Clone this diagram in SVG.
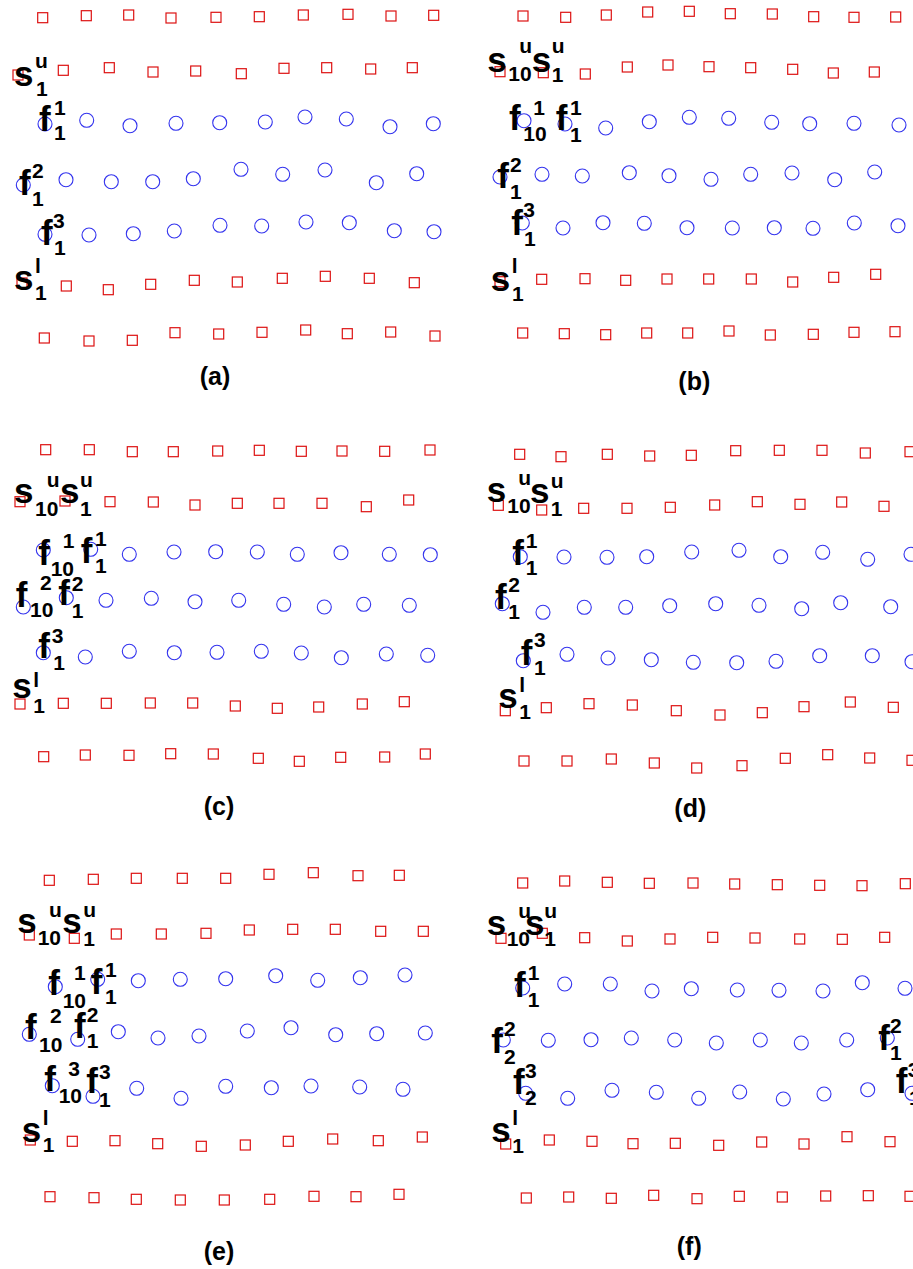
<svg xmlns="http://www.w3.org/2000/svg" xmlns:xlink="http://www.w3.org/1999/xlink" width="913" height="1269" viewBox="0 0 913 1269">
<style>
.sq{fill:none;stroke:#dd1111;stroke-width:1.2}
.ci{fill:none;stroke:#3333ee;stroke-width:1.1}
text{font-family:"Liberation Sans",Arial,Helvetica,sans-serif;font-weight:bold;fill:#000}
.m{font-size:35px}
.s{font-size:21px}
.cap{font-size:25px;text-anchor:middle}
</style>
<defs>
<rect id="sq" class="sq" x="-5" y="-5" width="10" height="10"/>
<circle id="ci" class="ci" r="7"/>
</defs>
<rect width="913" height="1269" fill="#fff"/>

<g id="panel-a">
<g id="a-markers">
<use href="#sq" x="42.7" y="17.7"/><use href="#sq" x="86.3" y="15.7"/><use href="#sq" x="128.7" y="15"/><use href="#sq" x="171" y="18"/><use href="#sq" x="216" y="17.3"/><use href="#sq" x="259.3" y="16.7"/><use href="#sq" x="303.3" y="15"/><use href="#sq" x="348" y="14.3"/><use href="#sq" x="391" y="16"/><use href="#sq" x="433.7" y="15.3"/>
<use href="#sq" x="18" y="75"/><use href="#sq" x="63.3" y="70.3"/><use href="#sq" x="109.3" y="67.7"/><use href="#sq" x="153" y="72"/><use href="#sq" x="195.7" y="71"/><use href="#sq" x="241.3" y="73.7"/><use href="#sq" x="284" y="68.3"/><use href="#sq" x="326.7" y="67.7"/><use href="#sq" x="370.7" y="69"/><use href="#sq" x="412.3" y="67.7"/>
<use href="#ci" x="45" y="124"/><use href="#ci" x="86.7" y="120.3"/><use href="#ci" x="130" y="125.7"/><use href="#ci" x="176" y="123.3"/><use href="#ci" x="219.7" y="122.7"/><use href="#ci" x="265.3" y="122"/><use href="#ci" x="305" y="117"/><use href="#ci" x="346.3" y="119"/><use href="#ci" x="390" y="126.7"/><use href="#ci" x="433.3" y="123.7"/>
<use href="#ci" x="23.3" y="185"/><use href="#ci" x="66" y="179.7"/><use href="#ci" x="111.3" y="181.7"/><use href="#ci" x="152.7" y="181.7"/><use href="#ci" x="193.3" y="178.7"/><use href="#ci" x="241" y="169.3"/><use href="#ci" x="282.7" y="174.3"/><use href="#ci" x="325" y="170"/><use href="#ci" x="376.3" y="182.7"/><use href="#ci" x="416.7" y="173.7"/>
<use href="#ci" x="45" y="234.3"/><use href="#ci" x="89" y="235"/><use href="#ci" x="133.3" y="233.7"/><use href="#ci" x="174.3" y="231"/><use href="#ci" x="220" y="225.3"/><use href="#ci" x="261.7" y="226"/><use href="#ci" x="306" y="222"/><use href="#ci" x="349.3" y="222.7"/><use href="#ci" x="394.3" y="230.7"/><use href="#ci" x="434" y="231.7"/>
<use href="#sq" x="22" y="283"/><use href="#sq" x="66.3" y="286"/><use href="#sq" x="108.3" y="289.7"/><use href="#sq" x="150.7" y="284.3"/><use href="#sq" x="194.3" y="280.3"/><use href="#sq" x="237.3" y="282"/><use href="#sq" x="282.3" y="278.3"/><use href="#sq" x="325.3" y="276.3"/><use href="#sq" x="369.3" y="278.3"/><use href="#sq" x="414.3" y="282.7"/>
<use href="#sq" x="44.3" y="338"/><use href="#sq" x="89" y="341"/><use href="#sq" x="132.3" y="340.3"/><use href="#sq" x="175" y="332.7"/><use href="#sq" x="218.7" y="334"/><use href="#sq" x="262" y="332.3"/><use href="#sq" x="305.7" y="330"/><use href="#sq" x="347.3" y="333.7"/><use href="#sq" x="390.7" y="332"/><use href="#sq" x="435" y="336"/>
</g>
<g id="a-labels">
<text class="m" x="14" y="86">s</text><text class="s" x="35" y="68">u</text><text class="s" x="36" y="96">1</text>
<text class="m" x="39" y="130.7">f</text><text class="s" x="54" y="115">1</text><text class="s" x="54" y="140">1</text>
<text class="m" x="19" y="195">f</text><text class="s" x="32" y="178">2</text><text class="s" x="32" y="206">1</text>
<text class="m" x="41" y="245">f</text><text class="s" x="53" y="228">3</text><text class="s" x="54" y="255">1</text>
<text class="m" x="14" y="290">s</text><text class="s" x="35" y="273">l</text><text class="s" x="35" y="300">1</text>
<text class="cap" x="215" y="385">(a)</text>
</g>
</g>

<g id="panel-b">
<g id="b-markers">
<use href="#sq" x="523" y="16"/><use href="#sq" x="565.7" y="17.3"/><use href="#sq" x="606.3" y="15"/><use href="#sq" x="647.7" y="12"/><use href="#sq" x="689.3" y="11.3"/><use href="#sq" x="730.3" y="13.7"/><use href="#sq" x="772.3" y="14"/><use href="#sq" x="813.7" y="16.7"/><use href="#sq" x="854" y="17.3"/><use href="#sq" x="895.7" y="17"/>
<use href="#sq" x="500" y="71.7"/><use href="#sq" x="543.3" y="72.7"/><use href="#sq" x="585.3" y="74"/><use href="#sq" x="627.3" y="67"/><use href="#sq" x="668" y="65"/><use href="#sq" x="709" y="66.7"/><use href="#sq" x="750.7" y="67.7"/><use href="#sq" x="792.7" y="69.3"/><use href="#sq" x="833.3" y="73"/><use href="#sq" x="874.3" y="72"/>
<use href="#ci" x="524" y="120.7"/><use href="#ci" x="565" y="124"/><use href="#ci" x="605.7" y="128"/><use href="#ci" x="649.3" y="121.7"/><use href="#ci" x="689.3" y="117.3"/><use href="#ci" x="728.7" y="118.3"/><use href="#ci" x="771.7" y="122.3"/><use href="#ci" x="809.7" y="123.7"/><use href="#ci" x="854" y="123.3"/><use href="#ci" x="899" y="125"/>
<use href="#ci" x="500" y="177"/><use href="#ci" x="542" y="174.3"/><use href="#ci" x="582.3" y="176"/><use href="#ci" x="629.3" y="172.7"/><use href="#ci" x="669" y="175.7"/><use href="#ci" x="711" y="179.3"/><use href="#ci" x="750.7" y="174.3"/><use href="#ci" x="792" y="173"/><use href="#ci" x="834.7" y="179.7"/><use href="#ci" x="874.7" y="172"/>
<use href="#ci" x="522.3" y="223"/><use href="#ci" x="563" y="228"/><use href="#ci" x="603" y="222.7"/><use href="#ci" x="644.3" y="223.3"/><use href="#ci" x="687" y="227.7"/><use href="#ci" x="732.3" y="228"/><use href="#ci" x="774.3" y="227.7"/><use href="#ci" x="813" y="228.3"/><use href="#ci" x="854.3" y="223"/><use href="#ci" x="898" y="225.7"/>
<use href="#sq" x="500" y="281.7"/><use href="#sq" x="541.7" y="279.3"/><use href="#sq" x="585" y="278.7"/><use href="#sq" x="625.7" y="280.3"/><use href="#sq" x="667" y="279"/><use href="#sq" x="708.7" y="279"/><use href="#sq" x="751.3" y="279"/><use href="#sq" x="792.7" y="282"/><use href="#sq" x="833.7" y="277.3"/><use href="#sq" x="875.7" y="274.3"/>
<use href="#sq" x="522.7" y="333"/><use href="#sq" x="564.3" y="333.7"/><use href="#sq" x="605.7" y="334.7"/><use href="#sq" x="646.7" y="333"/><use href="#sq" x="687.7" y="333"/><use href="#sq" x="729" y="331"/><use href="#sq" x="770.3" y="335"/><use href="#sq" x="813.3" y="334.3"/><use href="#sq" x="854" y="332.3"/><use href="#sq" x="895" y="331.7"/>
</g>
<g id="b-labels">
<text class="m" x="487.3" y="71.7">s</text><text class="s" x="519.3" y="53.3">u</text><text class="s" x="508.3" y="81">10</text>
<text class="m" x="531.7" y="71.7">s</text><text class="s" x="551.7" y="53.3">u</text><text class="s" x="551.7" y="81.7">1</text>
<text class="m" x="509" y="130">f</text><text class="s" x="533.3" y="115">1</text><text class="s" x="523.3" y="141">10</text>
<text class="m" x="555.7" y="130">f</text><text class="s" x="570" y="115">1</text><text class="s" x="570" y="141.7">1</text>
<text class="m" x="497.3" y="188.3">f</text><text class="s" x="510" y="171.7">2</text><text class="s" x="510" y="199.3">1</text>
<text class="m" x="511.3" y="235">f</text><text class="s" x="523.3" y="217.3">3</text><text class="s" x="524" y="246">1</text>
<text class="m" x="490.7" y="290.7">s</text><text class="s" x="511.7" y="273.3">l</text><text class="s" x="512" y="300.7">1</text>
<text class="cap" x="694.3" y="390">(b)</text>
</g>
</g>

<g id="panel-c">
<g id="c-markers">
<use href="#sq" x="45.7" y="449.7"/><use href="#sq" x="89.3" y="449.7"/><use href="#sq" x="132.3" y="451.7"/><use href="#sq" x="173.3" y="451.7"/><use href="#sq" x="217.7" y="451"/><use href="#sq" x="259.3" y="450.3"/><use href="#sq" x="301.3" y="451.3"/><use href="#sq" x="342" y="451"/><use href="#sq" x="384.7" y="451.3"/><use href="#sq" x="430" y="450"/>
<use href="#sq" x="20" y="501.7"/><use href="#sq" x="65" y="501"/><use href="#sq" x="110" y="501.7"/><use href="#sq" x="153.3" y="502"/><use href="#sq" x="195" y="505"/><use href="#sq" x="237.3" y="503.3"/><use href="#sq" x="279" y="503.3"/><use href="#sq" x="322" y="503.3"/><use href="#sq" x="366.3" y="506.7"/><use href="#sq" x="408.7" y="500"/>
<use href="#ci" x="43.3" y="550"/><use href="#ci" x="90.7" y="549.3"/><use href="#ci" x="129.3" y="554.3"/><use href="#ci" x="174" y="552"/><use href="#ci" x="215.7" y="551.7"/><use href="#ci" x="257.3" y="552"/><use href="#ci" x="297.3" y="554.3"/><use href="#ci" x="341" y="552.7"/><use href="#ci" x="389.3" y="554.3"/><use href="#ci" x="430.3" y="554.7"/>
<use href="#ci" x="23.3" y="607"/><use href="#ci" x="66.3" y="597.7"/><use href="#ci" x="106" y="600.3"/><use href="#ci" x="151.3" y="598.3"/><use href="#ci" x="195" y="601.7"/><use href="#ci" x="238.7" y="600.3"/><use href="#ci" x="283.7" y="604.3"/><use href="#ci" x="324.3" y="607"/><use href="#ci" x="363.7" y="604.3"/><use href="#ci" x="409.3" y="605.3"/>
<use href="#ci" x="43.3" y="652.7"/><use href="#ci" x="85.3" y="657"/><use href="#ci" x="129.3" y="651.3"/><use href="#ci" x="174.3" y="652.7"/><use href="#ci" x="217" y="652.3"/><use href="#ci" x="261.3" y="651.3"/><use href="#ci" x="301.3" y="653"/><use href="#ci" x="341.3" y="657.7"/><use href="#ci" x="386.3" y="654"/><use href="#ci" x="427.7" y="655.3"/>
<use href="#sq" x="20" y="704"/><use href="#sq" x="63.3" y="703.3"/><use href="#sq" x="106.3" y="703.3"/><use href="#sq" x="150.3" y="703"/><use href="#sq" x="192.7" y="703"/><use href="#sq" x="235.3" y="706"/><use href="#sq" x="277.3" y="708.3"/><use href="#sq" x="318.7" y="707"/><use href="#sq" x="362.3" y="704"/><use href="#sq" x="404.3" y="701.7"/>
<use href="#sq" x="43.7" y="756.7"/><use href="#sq" x="85.3" y="755"/><use href="#sq" x="129" y="755.3"/><use href="#sq" x="170.7" y="753.7"/><use href="#sq" x="213.3" y="754"/><use href="#sq" x="258.3" y="758.3"/><use href="#sq" x="299.3" y="761.3"/><use href="#sq" x="340.7" y="757.3"/><use href="#sq" x="384.7" y="757"/><use href="#sq" x="425.3" y="754"/>
</g>
<g id="c-labels">
<text class="m" x="14" y="503.3">s</text><text class="s" x="46.7" y="486.7">u</text><text class="s" x="35" y="516">10</text>
<text class="m" x="60" y="503.3">s</text><text class="s" x="80" y="486.7">u</text><text class="s" x="80" y="516">1</text>
<text class="m" x="38.3" y="565">f</text><text class="s" x="62.7" y="548.3">1</text><text class="s" x="50.7" y="576">10</text>
<text class="m" x="80.7" y="563.3">f</text><text class="s" x="95" y="546">1</text><text class="s" x="95" y="573.3">1</text>
<text class="m" x="15.7" y="606.7">f</text><text class="s" x="40" y="590">2</text><text class="s" x="30" y="617.3">10</text>
<text class="m" x="58.3" y="605">f</text><text class="s" x="71.7" y="590.7">2</text><text class="s" x="71.7" y="618.3">1</text>
<text class="m" x="38.3" y="658.3">f</text><text class="s" x="51.7" y="642.7">3</text><text class="s" x="53.3" y="670">1</text>
<text class="m" x="12.3" y="698.3">s</text><text class="s" x="33.3" y="686.7">l</text><text class="s" x="33.3" y="713.3">1</text>
<text class="cap" x="219" y="815">(c)</text>
</g>
</g>

<g id="panel-d">
<g id="d-markers">
<use href="#sq" x="519.7" y="454.3"/><use href="#sq" x="561" y="456.7"/><use href="#sq" x="607.3" y="454.3"/><use href="#sq" x="649.7" y="456"/><use href="#sq" x="691.3" y="455.3"/><use href="#sq" x="735.7" y="450.7"/><use href="#sq" x="779.3" y="450.3"/><use href="#sq" x="822" y="450.3"/><use href="#sq" x="865.3" y="453"/><use href="#sq" x="910" y="451.7"/>
<use href="#sq" x="498.3" y="505.3"/><use href="#sq" x="541.7" y="510"/><use href="#sq" x="583.7" y="508.3"/><use href="#sq" x="627" y="508.3"/><use href="#sq" x="670.3" y="507.3"/><use href="#sq" x="714.7" y="505"/><use href="#sq" x="757.3" y="501.7"/><use href="#sq" x="800" y="504.3"/><use href="#sq" x="841.7" y="502"/><use href="#sq" x="884" y="506.3"/>
<use href="#ci" x="520.3" y="556.7"/><use href="#ci" x="564" y="557"/><use href="#ci" x="607" y="557.3"/><use href="#ci" x="646.7" y="556.7"/><use href="#ci" x="691.7" y="552"/><use href="#ci" x="739" y="550.3"/><use href="#ci" x="780.7" y="556.7"/><use href="#ci" x="822.7" y="552.3"/><use href="#ci" x="867.7" y="559.3"/><use href="#ci" x="911" y="554.3"/>
<use href="#ci" x="502.3" y="603.7"/><use href="#ci" x="543" y="612.3"/><use href="#ci" x="584.3" y="607.3"/><use href="#ci" x="625.7" y="607.3"/><use href="#ci" x="669.7" y="605.7"/><use href="#ci" x="715.7" y="603.7"/><use href="#ci" x="759" y="605.3"/><use href="#ci" x="801.7" y="608.7"/><use href="#ci" x="840.7" y="602.7"/><use href="#ci" x="890.7" y="606.7"/>
<use href="#ci" x="523.3" y="660.7"/><use href="#ci" x="567" y="654.3"/><use href="#ci" x="608" y="658"/><use href="#ci" x="651.3" y="659.7"/><use href="#ci" x="693.3" y="662.3"/><use href="#ci" x="736.7" y="662.7"/><use href="#ci" x="776" y="661.3"/><use href="#ci" x="819.7" y="655.7"/><use href="#ci" x="872.3" y="655.7"/><use href="#ci" x="912" y="661.7"/>
<use href="#sq" x="505.3" y="710.7"/><use href="#sq" x="546.3" y="707.7"/><use href="#sq" x="589" y="703.7"/><use href="#sq" x="632.3" y="705"/><use href="#sq" x="676.3" y="710.7"/><use href="#sq" x="720" y="715"/><use href="#sq" x="762.3" y="712.7"/><use href="#sq" x="804" y="706.7"/><use href="#sq" x="850.3" y="702"/><use href="#sq" x="893.3" y="707.3"/>
<use href="#sq" x="524" y="761"/><use href="#sq" x="567" y="761"/><use href="#sq" x="611.3" y="759"/><use href="#sq" x="654.3" y="763"/><use href="#sq" x="696.7" y="768"/><use href="#sq" x="742" y="765.7"/><use href="#sq" x="785.3" y="758.3"/><use href="#sq" x="827.7" y="754.7"/><use href="#sq" x="869.7" y="758"/><use href="#sq" x="912" y="760.3"/>
</g>
<g id="d-labels">
<text class="m" x="486.7" y="501.7">s</text><text class="s" x="518.3" y="485">u</text><text class="s" x="507.3" y="513.3">10</text>
<text class="m" x="530" y="503.3">s</text><text class="s" x="550.7" y="487.7">u</text><text class="s" x="550.7" y="515.7">1</text>
<text class="m" x="512.3" y="565">f</text><text class="s" x="525.7" y="548.3">1</text><text class="s" x="525.7" y="575">1</text>
<text class="m" x="495" y="609.3">f</text><text class="s" x="508.3" y="591.7">2</text><text class="s" x="508.3" y="619.3">1</text>
<text class="m" x="520.7" y="665">f</text><text class="s" x="534" y="646.7">3</text><text class="s" x="534" y="675">1</text>
<text class="m" x="498.3" y="708.3">s</text><text class="s" x="519.3" y="691.7">l</text><text class="s" x="519.3" y="719.3">1</text>
<text class="cap" x="690.3" y="816.5">(d)</text>
</g>
</g>

<g id="panel-e">
<g id="e-markers">
<use href="#sq" x="49.3" y="880.3"/><use href="#sq" x="93.3" y="879.3"/><use href="#sq" x="136.3" y="878.3"/><use href="#sq" x="182.3" y="878.3"/><use href="#sq" x="225.7" y="878.3"/><use href="#sq" x="269" y="874.3"/><use href="#sq" x="313.3" y="872.7"/><use href="#sq" x="358" y="875.7"/><use href="#sq" x="399.3" y="875.3"/>
<use href="#sq" x="29.3" y="935"/><use href="#sq" x="74.3" y="938.3"/><use href="#sq" x="116.3" y="934"/><use href="#sq" x="161.3" y="934"/><use href="#sq" x="206" y="933.3"/><use href="#sq" x="249.3" y="930"/><use href="#sq" x="292.7" y="929.3"/><use href="#sq" x="335.3" y="929.3"/><use href="#sq" x="380.7" y="931.3"/><use href="#sq" x="423.3" y="931.3"/>
<use href="#ci" x="55.3" y="986.7"/><use href="#ci" x="97.7" y="979.3"/><use href="#ci" x="138.3" y="980.7"/><use href="#ci" x="180.3" y="979.3"/><use href="#ci" x="225.7" y="978.7"/><use href="#ci" x="275.7" y="975.7"/><use href="#ci" x="317.7" y="980.3"/><use href="#ci" x="360.3" y="977.7"/><use href="#ci" x="405" y="975"/>
<use href="#ci" x="29.3" y="1034.3"/><use href="#ci" x="77.7" y="1039.3"/><use href="#ci" x="118.3" y="1031.7"/><use href="#ci" x="158" y="1038"/><use href="#ci" x="199" y="1036"/><use href="#ci" x="247.3" y="1031"/><use href="#ci" x="291" y="1027.7"/><use href="#ci" x="335.7" y="1034.7"/><use href="#ci" x="376.7" y="1033.7"/><use href="#ci" x="425.3" y="1033"/>
<use href="#ci" x="52.3" y="1085.7"/><use href="#ci" x="93" y="1096.3"/><use href="#ci" x="136.7" y="1088.3"/><use href="#ci" x="181" y="1098.3"/><use href="#ci" x="225.7" y="1086.3"/><use href="#ci" x="271.3" y="1087.7"/><use href="#ci" x="311" y="1086"/><use href="#ci" x="359.7" y="1087"/><use href="#ci" x="403" y="1089.3"/>
<use href="#sq" x="30.3" y="1140"/><use href="#sq" x="72.3" y="1141.3"/><use href="#sq" x="115" y="1140.7"/><use href="#sq" x="157.7" y="1143.7"/><use href="#sq" x="201.3" y="1146.3"/><use href="#sq" x="245.3" y="1145"/><use href="#sq" x="288.3" y="1141.3"/><use href="#sq" x="332.7" y="1139"/><use href="#sq" x="378.3" y="1140.7"/><use href="#sq" x="422.3" y="1137"/>
<use href="#sq" x="50" y="1196.7"/><use href="#sq" x="94" y="1197.7"/><use href="#sq" x="136.3" y="1199.3"/><use href="#sq" x="180.3" y="1200"/><use href="#sq" x="224.3" y="1200"/><use href="#sq" x="269.7" y="1199.3"/><use href="#sq" x="314" y="1196.3"/><use href="#sq" x="356" y="1196.7"/><use href="#sq" x="399" y="1194.3"/>
</g>
<g id="e-labels">
<text class="m" x="17.3" y="933.3">s</text><text class="s" x="49" y="917.3">u</text><text class="s" x="37.7" y="945">10</text>
<text class="m" x="62.3" y="933.3">s</text><text class="s" x="83.3" y="917.3">u</text><text class="s" x="83.3" y="946">1</text>
<text class="m" x="48.3" y="995">f</text><text class="s" x="74" y="980">1</text><text class="s" x="62.7" y="1007.7">10</text>
<text class="m" x="90.7" y="994.3">f</text><text class="s" x="105" y="977.3">1</text><text class="s" x="105" y="1004">1</text>
<text class="m" x="25" y="1039.3">f</text><text class="s" x="50" y="1023.3">2</text><text class="s" x="39" y="1051.7">10</text>
<text class="m" x="74" y="1038.3">f</text><text class="s" x="86.7" y="1021.7">2</text><text class="s" x="86.7" y="1048.3">1</text>
<text class="m" x="44.3" y="1091">f</text><text class="s" x="68.3" y="1076">3</text><text class="s" x="58.7" y="1103.3">10</text>
<text class="m" x="86.3" y="1092.7">f</text><text class="s" x="99" y="1079.3">3</text><text class="s" x="99" y="1106.7">1</text>
<text class="m" x="21.7" y="1141.7">s</text><text class="s" x="42.7" y="1125">l</text><text class="s" x="42.7" y="1151.7">1</text>
<text class="cap" x="219" y="1260">(e)</text>
</g>
</g>

<g id="panel-f">
<g id="f-markers">
<use href="#sq" x="522.7" y="883"/><use href="#sq" x="564.7" y="881"/><use href="#sq" x="607.3" y="882.3"/><use href="#sq" x="649.3" y="883.3"/><use href="#sq" x="693" y="883"/><use href="#sq" x="734.7" y="884"/><use href="#sq" x="777.3" y="884.7"/><use href="#sq" x="819.7" y="885.3"/><use href="#sq" x="862" y="885.7"/><use href="#sq" x="905.3" y="883.7"/>
<use href="#sq" x="501" y="938.3"/><use href="#sq" x="542.3" y="933.3"/><use href="#sq" x="584.7" y="937.7"/><use href="#sq" x="627.3" y="941"/><use href="#sq" x="670" y="939"/><use href="#sq" x="712.7" y="937.3"/><use href="#sq" x="755" y="938"/><use href="#sq" x="799.7" y="939"/><use href="#sq" x="842.3" y="939.3"/><use href="#sq" x="884.7" y="937.3"/>
<use href="#ci" x="522.7" y="988"/><use href="#ci" x="564.7" y="984"/><use href="#ci" x="610.3" y="984"/><use href="#ci" x="652" y="991"/><use href="#ci" x="691.3" y="988.7"/><use href="#ci" x="737.3" y="990"/><use href="#ci" x="779" y="990.3"/><use href="#ci" x="823" y="991"/><use href="#ci" x="862.3" y="982.7"/><use href="#ci" x="905" y="988.3"/>
<use href="#ci" x="503.3" y="1040"/><use href="#ci" x="548.3" y="1040.3"/><use href="#ci" x="591" y="1039.7"/><use href="#ci" x="631.3" y="1038"/><use href="#ci" x="674.7" y="1040"/><use href="#ci" x="716.3" y="1043"/><use href="#ci" x="760.3" y="1040"/><use href="#ci" x="801.3" y="1043"/><use href="#ci" x="846.7" y="1040"/><use href="#ci" x="887.3" y="1038"/>
<use href="#ci" x="525.7" y="1093.3"/><use href="#ci" x="567.7" y="1098.3"/><use href="#ci" x="612" y="1090.3"/><use href="#ci" x="656.3" y="1092.3"/><use href="#ci" x="698.7" y="1098.3"/><use href="#ci" x="739.7" y="1092"/><use href="#ci" x="783.3" y="1099"/><use href="#ci" x="824" y="1094"/><use href="#ci" x="867.7" y="1089.7"/><use href="#ci" x="912" y="1093.3"/>
<use href="#sq" x="505.7" y="1144"/><use href="#sq" x="549.3" y="1140"/><use href="#sq" x="592" y="1141.3"/><use href="#sq" x="633" y="1143.7"/><use href="#sq" x="675.3" y="1143.3"/><use href="#sq" x="718.7" y="1145.3"/><use href="#sq" x="761.7" y="1142"/><use href="#sq" x="804" y="1144"/><use href="#sq" x="847" y="1136.7"/><use href="#sq" x="890" y="1141.7"/>
<use href="#sq" x="526.3" y="1198"/><use href="#sq" x="568.7" y="1197"/><use href="#sq" x="611.3" y="1198.3"/><use href="#sq" x="653.7" y="1195.3"/><use href="#sq" x="697" y="1198.7"/><use href="#sq" x="739.3" y="1196.3"/><use href="#sq" x="782.3" y="1197"/><use href="#sq" x="825.7" y="1196"/><use href="#sq" x="868.3" y="1195.7"/><use href="#sq" x="910" y="1196.3"/>
</g>
<g id="f-labels">
<text class="m" x="486.7" y="935">s</text><text class="s" x="518.3" y="917.7">u</text><text class="s" x="506.7" y="946">10</text>
<text class="m" x="525" y="935">s</text><text class="s" x="544.3" y="917.7">u</text><text class="s" x="544.3" y="946">1</text>
<text class="m" x="514" y="996.7">f</text><text class="s" x="527.7" y="980">1</text><text class="s" x="527.7" y="1006.7">1</text>
<text class="m" x="491.3" y="1052.7">f</text><text class="s" x="504" y="1036">2</text><text class="s" x="504" y="1064">2</text>
<text class="m" x="513" y="1094.3">f</text><text class="s" x="525" y="1078.3">3</text><text class="s" x="525" y="1105">2</text>
<text class="m" x="878.3" y="1050">f</text><text class="s" x="890" y="1032.7">2</text><text class="s" x="890" y="1060">1</text>
<text class="m" x="895.7" y="1093.3">f</text><text class="s" x="907.7" y="1076.7">3</text><text class="s" x="909" y="1105">1</text>
<text class="m" x="491.3" y="1141.7">s</text><text class="s" x="512.3" y="1125">l</text><text class="s" x="512.3" y="1152.7">1</text>
<text class="cap" x="689.3" y="1255">(f)</text>
</g>
</g>
</svg>
